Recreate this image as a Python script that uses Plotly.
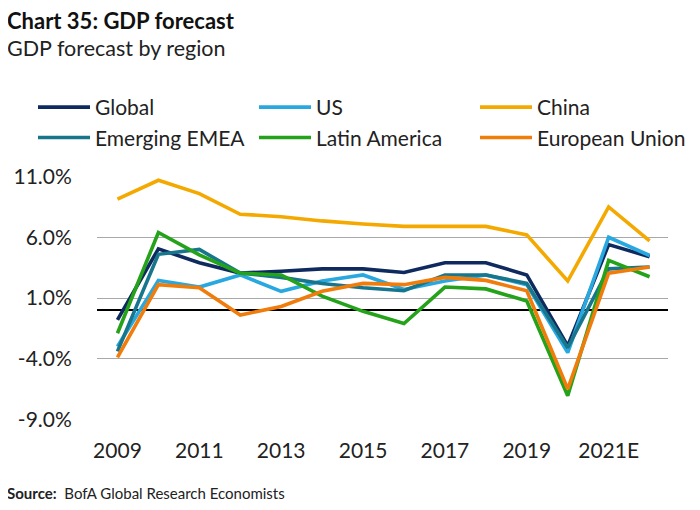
import plotly.graph_objects as go

years = list(range(2009, 2023))
tick_years = [2009, 2011, 2013, 2015, 2017, 2019, 2021]
tick_labels = ["2009", "2011", "2013", "2015", "2017", "2019", "2021E"]

global_gdp = [-0.8, 5.05, 3.9, 3.05, 3.2, 3.4, 3.4, 3.1, 3.9, 3.9, 2.9, -2.95, 5.4, 4.4]
us_gdp = [-3.0, 2.45, 1.9, 2.9, 1.55, 2.4, 2.9, 1.7, 2.4, 2.9, 2.1, -3.5, 6.0, 4.5]
china_gdp = [9.15, 10.7, 9.6, 7.9, 7.7, 7.35, 7.1, 6.9, 6.9, 6.9, 6.2, 2.4, 8.5, 5.7]
emea_gdp = [-3.4, 4.6, 5.0, 3.05, 2.7, 2.2, 1.85, 1.6, 2.9, 2.9, 2.2, -3.1, 3.4, 3.55]
latam_gdp = [-1.9, 6.4, 4.55, 3.05, 2.9, 1.15, -0.1, -1.1, 1.9, 1.75, 0.75, -7.05, 4.1, 2.75]
eu_gdp = [-3.9, 2.1, 1.85, -0.4, 0.3, 1.55, 2.2, 2.1, 2.7, 2.45, 1.6, -6.5, 3.05, 3.55]

series = [
    ("Global", global_gdp, "#0e2a5e"),
    ("US", us_gdp, "#29a8e0"),
    ("China", china_gdp, "#f4a900"),
    ("Emerging EMEA", emea_gdp, "#17758c"),
    ("Latin America", latam_gdp, "#23a21a"),
    ("European Union", eu_gdp, "#f07c0c"),
]

FONT = "Lato, Roboto, sans-serif"

fig = go.Figure()
for name, vals, color in series:
    fig.add_trace(go.Scatter(x=years, y=vals, mode="lines", name=name,
                             line=dict(color=color, width=3.6)))

# page has an 8px body margin, so the figure is 8px smaller each way
W, H = 692, 502
L, R, T, B = 89, 32, 168, 90
pw = W - L - R
ph = H - T - B

def px_x(p):
    return (p - L) / pw

def px_y(p):
    return (H - B - p) / ph

fig.update_layout(
    width=W, height=H,
    margin=dict(l=L, r=R, t=T, b=B, autoexpand=False),
    paper_bgcolor="white", plot_bgcolor="white",
    font=dict(family=FONT, size=19, color="#222222"),
    showlegend=True,
    legend=dict(orientation="h", x=px_x(25), y=px_y(79), xanchor="left", yanchor="top",
                entrywidth=154, entrywidthmode="pixels", traceorder="normal",
                font=dict(size=21, color="#222222"), itemwidth=52,
                tracegroupgap=0),
    xaxis=dict(range=[2008.5, 2022.45], tickvals=tick_years, ticktext=tick_labels,
               showgrid=False, zeroline=False, showline=False,
               ticks="outside", ticklen=12, tickcolor="rgba(0,0,0,0)",
               tickfont=dict(size=21)),
    yaxis=dict(range=[-9.05, 11.05], tickvals=[-9, -4, 1, 6, 11],
               ticktext=["-9.0%", "-4.0%", "1.0%", "6.0%", "11.0%"],
               showgrid=True, gridcolor="#a8a8a8", gridwidth=1.2,
               zeroline=True, zerolinecolor="black", zerolinewidth=2,
               showline=False, ticks="outside", ticklen=20,
               tickcolor="rgba(0,0,0,0)", tickfont=dict(size=21)),
)

fig.add_annotation(text="<b>Chart 35: GDP forecast</b>", xref="paper", yref="paper",
                   x=px_x(-3), y=px_y(12), xanchor="left", yanchor="middle",
                   showarrow=False, font=dict(size=22, color="#111111"))
fig.add_annotation(text="GDP forecast by region", xref="paper", yref="paper",
                   x=px_x(-3), y=px_y(40), xanchor="left", yanchor="middle",
                   showarrow=False, font=dict(size=21.5, color="#222222"))
fig.add_annotation(text="<b>Source:</b>  BofA Global Research Economists", xref="paper", yref="paper",
                   x=px_x(-3), y=px_y(485), xanchor="left", yanchor="middle",
                   showarrow=False, font=dict(size=15, color="#222222"))

fig.write_html("out.html")
